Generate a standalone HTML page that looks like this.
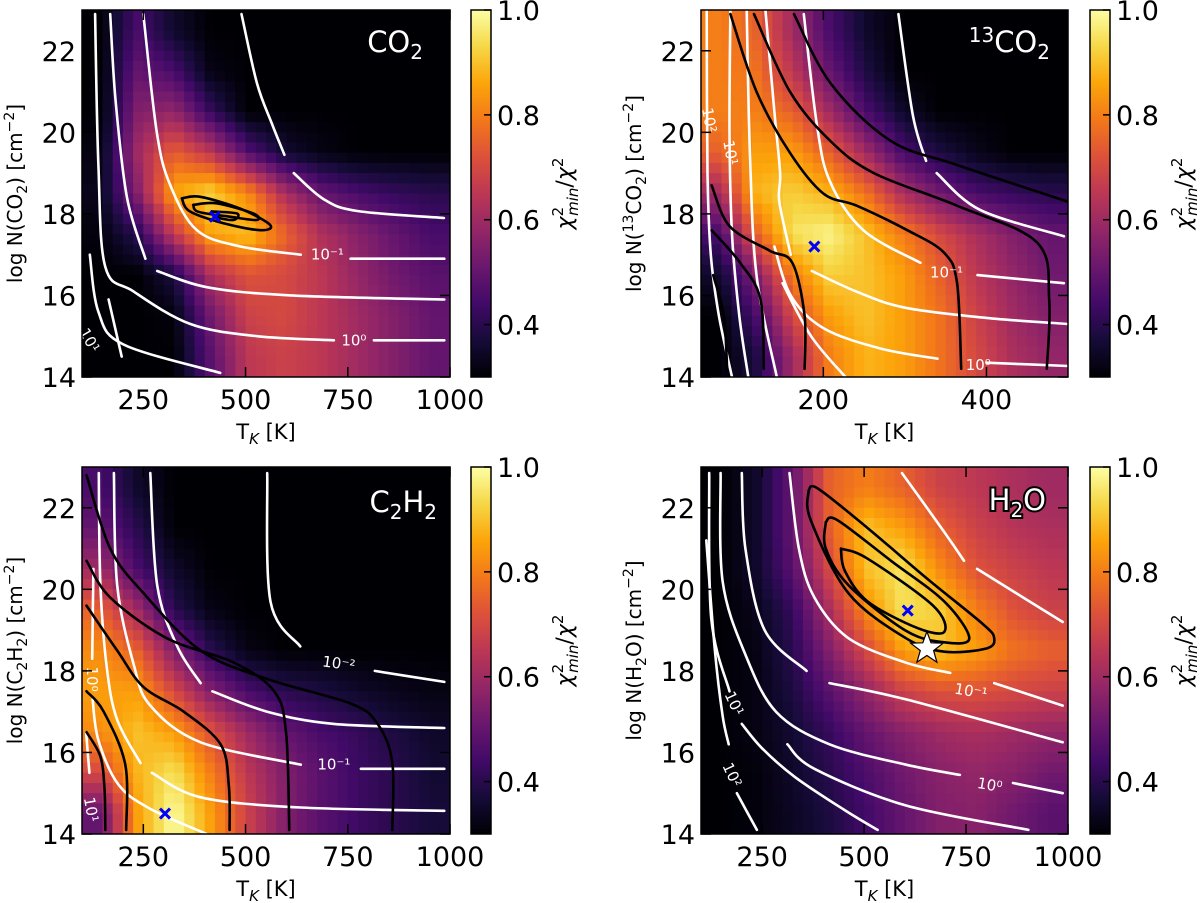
<!DOCTYPE html>
<html><head><meta charset="utf-8"><style>
html,body{margin:0;padding:0;background:#fff;}
svg{display:block;font-family:"DejaVu Sans","Liberation Sans",sans-serif;}
</style></head><body>
<svg id="fig" width="1200" height="903" viewBox="0 0 1200 903" xmlns="http://www.w3.org/2000/svg">
<defs>
<linearGradient id="inferno" x1="0" y1="1" x2="0" y2="0">
<stop offset="0" stop-color="#000004"/><stop offset="0.1" stop-color="#160b39"/><stop offset="0.2" stop-color="#420a68"/><stop offset="0.3" stop-color="#6a176e"/><stop offset="0.4" stop-color="#932667"/><stop offset="0.5" stop-color="#bc3754"/><stop offset="0.6" stop-color="#dd513a"/><stop offset="0.7" stop-color="#f37819"/><stop offset="0.8" stop-color="#fca50a"/><stop offset="0.9" stop-color="#f6d746"/><stop offset="1" stop-color="#fcffa4"/>
</linearGradient>
</defs>
</svg>
<script>
// ---------- data (grid rows: logN 22.5 -> 14.5, cols evenly spaced in T) ----------
const co2Grid=[
[.30,.45,.35,.30,.30,.30,.30,.30,.30,.30],
[.30,.50,.45,.32,.30,.30,.30,.30,.30,.30],
[.30,.55,.58,.42,.30,.30,.30,.30,.30,.30],
[.32,.60,.75,.65,.47,.36,.32,.30,.30,.30],
[.33,.55,.86,.93,.82,.62,.50,.45,.42,.40],
[.31,.40,.66,.86,.90,.76,.63,.56,.50,.45],
[.30,.30,.38,.62,.72,.70,.65,.58,.52,.48],
[.30,.30,.31,.52,.68,.70,.65,.60,.55,.50],
[.30,.30,.30,.48,.65,.68,.65,.60,.55,.50]];
const c13Grid=[
[.80,.75,.60,.45,.35,.30,.30,.30,.30,.30],
[.80,.78,.65,.50,.38,.30,.30,.30,.30,.30],
[.80,.80,.75,.60,.45,.35,.30,.30,.30,.30],
[.75,.85,.85,.75,.60,.45,.38,.33,.30,.30],
[.60,.88,.92,.88,.78,.62,.52,.45,.42,.40],
[.45,.75,.95,.98,.90,.80,.70,.62,.55,.50],
[.35,.55,.80,.92,.90,.85,.75,.65,.58,.52],
[.30,.45,.70,.85,.90,.85,.78,.68,.60,.55],
[.30,.38,.60,.80,.88,.85,.78,.70,.62,.58]];
const c2h2Grid=[
[.45,.35,.30,.30,.30,.30,.30,.30,.30,.30],
[.50,.40,.30,.30,.30,.30,.30,.30,.30,.30],
[.60,.45,.35,.30,.30,.30,.30,.30,.30,.30],
[.75,.60,.40,.32,.30,.30,.30,.30,.30,.30],
[.82,.75,.55,.40,.32,.30,.30,.30,.30,.30],
[.85,.85,.70,.55,.45,.40,.38,.35,.33,.32],
[.82,.90,.85,.72,.60,.50,.45,.42,.38,.35],
[.70,.88,.95,.80,.65,.55,.48,.43,.40,.36],
[.50,.85,1.0,.85,.68,.55,.48,.43,.40,.37]];
const h2oGrid=[
[.30,.35,.50,.75,.80,.75,.68,.65,.62,.60],
[.30,.35,.50,.75,.90,.85,.75,.68,.64,.62],
[.30,.35,.48,.70,.90,.95,.82,.72,.68,.65],
[.30,.33,.42,.62,.82,.95,.92,.80,.72,.68],
[.30,.32,.40,.55,.70,.85,.90,.85,.78,.75],
[.30,.32,.38,.48,.58,.68,.72,.72,.70,.68],
[.30,.32,.36,.42,.50,.56,.60,.62,.60,.58],
[.30,.31,.35,.40,.46,.52,.56,.58,.56,.52],
[.30,.31,.34,.38,.44,.50,.55,.56,.52,.48]];

// contours: [T, logN] points, null = break
const co2White=[
[[490,22.9],[528,21.2],[565,20.2],[595,19.45],null,[618,19.0],[691,18.36],[773,18.07],[985,17.9]],
[[250,22.9],[283,20.0],[316,18.7],[381,17.6],[488,17.2],[635,17.0],null,[757,16.9],[986,16.9]],
[[169,22.9],[182,20.8],[210,18.4],[255,16.9],null,[284,16.6],[407,16.2],[611,16.0],[986,15.9]],
[[132,22.9],[140,19.2],[157,16.7],[226,16.1],[365,15.3],[528,15.0],[716,14.9],null,[814,14.9],[986,14.9]],
[[119,17.0],[140,15.6],[201,14.8],[438,14.1]],
[[165,15.9],[197,14.5]]];
const co2Black=[
[[344,18.38],[389,18.42],[487,18.13],[560,17.73],[536,17.6],[446,17.77],[364,18.06],[344,18.38]],
[[372,18.22],[429,18.26],[519,18.01],[527,17.85],[462,17.93],[385,18.05],[372,18.22]],
[[417,18.06],[479,18.01],[470,17.85],[425,17.93],[417,18.06]]];
const co2Labels=[["10⁻¹",700,17.0,0],["10⁰",765,14.9,0],["10¹",118,14.9,60]];
const co2Best=[425,17.93];

const c13White=[
[[57,23],[58,19],[62,17],[72,15.5],[88,14]],
[[86,23],[85,20],[88,17.5],[97,15.5],[108,14]],
[[106,23],[110,19.5],[118,16.5],[143,14]],
[[129,23],[140,20.5],[147,19],[146,18.3],[160,17]],
[[186,16.6],[240,16.1],[300,15.7],[400,15.45],[500,15.3]],
[[176,22.9],[192,20.2],[208,18.8],[249,17.6],[319,16.8],null,[389,16.5],[495,16.3]],
[[292,22.9],[310,20.4],[326,19.3],null,[339,19.0],[392,18.1],[495,17.45]],
[[140,17.2],[160,16.0],[200,15.2],[270,14.7],[340,14.45],null,[400,14.35],[500,14.27]],
[[150,16.3],[185,15.0],[227,14.0]]];
const c13Black=[
[[86,22.9],[118,21],[159,19.5],[200,18.5],[241,18.2],[303,17.6],[348,17.05],[364,16.3],[369,14.2]],
[[115,22.9],[159,21],[208,19.8],[262,19.0],[364,18.2],[462,17.3],[477,15.9],[474,14.2]],
[[164,22.9],[209,21.2],[282,19.8],[364,19.2],[500,18.3]],
[[63,18.7],[85,17.7],[134,17.1],[162,16.8],[177,15.5],[177,14.2]],
[[63,17.6],[98,16.8],[123,15.9],[127,14.2]],
[[65,16.5],[78,15.5],[82,14.2]]];
const c13Labels=[["10⁻¹",351,16.56,0],["10⁰",390,14.3,0],["10¹",86,19.5,80],["10²",60,20.3,80]];
const c13Best=[189,17.2];

const c2h2White=[
[[553,22.85],[561,19.7],[634,18.6],null,[816,18.0],[986,17.73]],
[[267,22.85],[284,20.1],[333,18.6],[390,17.7],null,[419,17.5],[553,17.0],[716,16.7],[986,16.6]],
[[178,22.85],[186,20.1],[227,18.14],[267,17.15],[390,16.25],[635,15.7],null,[782,15.6],[986,15.6]],
[[141,22.85],[145,20.1],[161,18.06],[186,16.8],[243,15.74],null,[271,15.5],[390,14.9],[635,14.65],[986,14.57]],
[[128,20.5],[125,18.3],null,[126,17.3],[140,16.3],[190,15.2],[270,14.6],[405,14.0]],
[[110,16.5],[118,15.5]]];
const c2h2Black=[
[[111,22.8],[169,21.0],[251,19.9],[390,18.5],[553,17.8],[757,17.2],[823,16.7],[859,15.75],[859,14.1]],
[[111,20.7],[169,19.8],[308,18.8],[472,18.2],[570,17.5],[599,16.5],[607,14.1]],
[[111,19.6],[186,18.5],[251,17.6],[349,17.0],[439,16.2],[459,15.2],[461,14.1]],
[[111,17.5],[153,17.0],[206,15.7],[208,14.1]],
[[111,16.5],[145,15.9],[155,15.1],[157,14.1]]];
const c2h2Labels=[["10⁻²",728,18.18,8],["10⁻¹",716,15.7,0],["10⁰",125,17.8,90],["10¹",122,14.6,80]];
const c2h2Best=[303,14.5];

const h2oWhite=[
[[593,22.85],[697,21.4],[745,20.7],null,[777,20.5],[987,19.2]],
[[317,22.85],[340,21.0],[378,19.8],[462,18.8],[603,18.2],[711,17.95],null,[819,17.7],[987,17.15]],
[[200,22.85],[209,21.0],[256,19.0],[359,18.0],null,[415,17.7],[603,17.3],[987,16.25]],
[[148,22.85],[153,20.2],[209,18.4],[284,17.0],[415,16.2],[603,15.7],[735,15.45],null,[865,15.25],[987,15.0]],
[[120,22.85],[125,19.3],[170,17.5],null,[200,16.7],[250,16.1],[330,15.4],[450,14.6],[533,14.1]],
[[113,21.2],[134,18.5],[153,16.9],[168,16.2],null,[188,15.0],[237,14.1]],
[[312,16.2],[378,15.6],[603,14.7],[903,14.1]]];
const h2oBlack=[
[[364,22.43],[387,22.47],[509,21.5],[650,20.3],[791,19.15],[819,18.8],[800,18.55],[697,18.47],[603,18.8],[462,19.9],[369,21.7],[364,22.43]],
[[406,21.65],[434,21.7],[566,20.7],[697,19.7],[758,18.8],[697,18.7],[603,18.98],[462,20.1],[406,21.0],[406,21.65]],
[[443,21.0],[509,20.75],[669,19.6],[697,18.96],[631,19.05],[509,19.7],[453,20.45],[443,21.0]]];
const h2oLabels=[["10⁻¹",762,17.5,10],["10⁰",808,15.2,10],["10¹",181,17.2,65],["10²",176,15.45,65]];
const h2oBest=[607,19.48];
const h2oStar=[654,18.55];

const cbTicks=[0.4,0.6,0.8,1.0];
const yTicks=[14,16,18,20,22];
const xTicksWide=[250,500,750,1000];
const xTicks13=[200,400];

// ---------- rendering ----------
const NS='http://www.w3.org/2000/svg';
const svg=document.getElementById('fig');
function mk(tag,attrs,parent){const e=document.createElementNS(NS,tag);for(const k in attrs)e.setAttribute(k,attrs[k]);(parent||svg).appendChild(e);return e;}
const STOPS=[[0,0,0,4],[.1,22,11,57],[.2,66,10,104],[.3,106,23,110],[.4,147,38,103],[.5,188,55,84],[.6,221,81,58],[.7,243,120,25],[.8,252,165,10],[.9,246,215,70],[1,252,255,164]];
function inferno(v){let t=(v-0.3)/0.7;t=Math.max(0,Math.min(1,t));for(let i=1;i<STOPS.length;i++){if(t<=STOPS[i][0]){const a=STOPS[i-1],b=STOPS[i];const f=(t-a[0])/(b[0]-a[0]);return 'rgb('+[1,2,3].map(k=>Math.round(a[k]+f*(b[k]-a[k]))).join(',')+')';}}return 'rgb(252,255,164)';}
function smooth(P){
  if(P.length<2)return '';
  let d='M'+P[0][0].toFixed(1)+','+P[0][1].toFixed(1);
  for(let i=0;i<P.length-1;i++){const p0=P[Math.max(0,i-1)],p1=P[i],p2=P[i+1],p3=P[Math.min(P.length-1,i+2)];
    const c1=[p1[0]+(p2[0]-p0[0])/6,p1[1]+(p2[1]-p0[1])/6],c2=[p2[0]-(p3[0]-p1[0])/6,p2[1]-(p3[1]-p1[1])/6];
    d+='C'+c1[0].toFixed(1)+','+c1[1].toFixed(1)+' '+c2[0].toFixed(1)+','+c2[1].toFixed(1)+' '+p2[0].toFixed(1)+','+p2[1].toFixed(1);}
  return d;}

function panel(cfg){
  const {x0,x1,y0,y1,tmin,tmax,grid,white,black,labels,best,star,xticks,title,key,ylab,cbx}=cfg;
  const g=mk('g',{});
  
  
  const xs=T=>x0+(T-tmin)/(tmax-tmin)*(x1-x0);
  const ys=N=>y1-(N-14)/9*(y1-y0);
  const clipId='clip-'+key;
  const cp=mk('clipPath',{id:clipId},g);mk('rect',{x:x0,y:y0,width:x1-x0,height:y1-y0},cp);
  const hm=mk('g',{'clip-path':'url(#'+clipId+')'},g);
  
  
  const nc=grid[0].length,nr=grid.length;const FX=36,FY=36;
  const dT=(tmax-tmin)/nc;
  for(let i=0;i<FY;i++){for(let j=0;j<FX;j++){
    const T=tmin+(j+0.5)*(tmax-tmin)/FX, N=23-(i+0.5)*9/FY;
    let c=(T-tmin)/dT-0.5, r=(23-N)-0.5;
    c=Math.max(0,Math.min(nc-1,c)); r=Math.max(0,Math.min(nr-1,r));
    const c0=Math.floor(c),r0=Math.floor(r),c1=Math.min(nc-1,c0+1),r1=Math.min(nr-1,r0+1);
    const fc=c-c0,fr=r-r0;
    const v=(grid[r0][c0]*(1-fc)+grid[r0][c1]*fc)*(1-fr)+(grid[r1][c0]*(1-fc)+grid[r1][c1]*fc)*fr;
    const xa=xs(T-(tmax-tmin)/FX/2),xb=xs(T+(tmax-tmin)/FX/2),ya=ys(N+9/FY/2),yb=ys(N-9/FY/2);
    const cell=mk('rect',{x:xa.toFixed(2),y:ya.toFixed(2),width:(xb-xa+0.6).toFixed(2),height:(yb-ya+0.6).toFixed(2),fill:inferno(v)},hm);
    
    
  }}
  const cg=mk('g',{'clip-path':'url(#'+clipId+')',fill:'none'},g);
  function drawLines(arr,color,name,w){arr.forEach(pts=>{let d='',run=[];
    const flush=()=>{d+=smooth(run);run=[];};
    pts.forEach(p=>{if(p===null){flush();return;}run.push([xs(p[0]),ys(p[1])]);});flush();
    const pth=mk('path',{d:d,stroke:color,'stroke-width':w,'stroke-linejoin':'round','stroke-linecap':'round'},cg);
    
    });}
  drawLines(white,'#ffffff','white-contour',2.6);
  drawLines(black,'#000000','black-contour',2.6);
  labels.forEach(l=>{const t=mk('text',{x:xs(l[1]),y:ys(l[2])+5,'font-size':15,fill:'#fff','text-anchor':'middle',transform:'rotate('+l[3]+' '+xs(l[1])+' '+ys(l[2])+')'},cg);t.textContent=l[0];
    
    });
  if(star){const cx=xs(star[0]),cy=ys(star[1]);let pts=[];for(let k=0;k<10;k++){const a=-Math.PI/2+k*Math.PI/5,rr=k%2?7:17;pts.push((cx+rr*Math.cos(a)).toFixed(1)+','+(cy+rr*Math.sin(a)).toFixed(1));}
    const s=mk('polygon',{points:pts.join(' '),fill:'#fff',stroke:'#000','stroke-width':1.2},g);
    
    }
  {const bx=xs(best[0]),by=ys(best[1]);const m=mk('path',{d:`M${bx-5},${by-5}L${bx+5},${by+5}M${bx-5},${by+5}L${bx+5},${by-5}`,stroke:'#0000ff','stroke-width':3},g);
    
    }
  const tt=mk('text',{x:cfg.tx,y:cfg.ty,'font-size':29,fill:'#fff','text-anchor':'end',stroke:cfg.outline?'#000':'none','stroke-width':cfg.outline?4:0,'paint-order':'stroke'},g);
  tt.innerHTML=title;
  
  
  const tk=mk('g',{stroke:'#000','stroke-width':1.5},g);
  xticks.forEach(v=>{const x=xs(v);mk('line',{x1:x,y1:y1,x2:x,y2:y1-10},tk);mk('line',{x1:x,y1:y0,x2:x,y2:y0+10},tk);
    const l=mk('text',{x:x,y:y1+32,'font-size':27,'text-anchor':'middle',stroke:'none',fill:'#000'},g);l.textContent=v;
    
    });
  yTicks.forEach(v=>{const y=ys(v);mk('line',{x1:x0,y1:y,x2:x0+10,y2:y},tk);mk('line',{x1:x1,y1:y,x2:x1-10,y2:y},tk);
    const l=mk('text',{x:x0-6,y:y+10,'font-size':27,'text-anchor':'end',stroke:'none',fill:'#000'},g);l.textContent=v;
    
    });
  const fr=mk('rect',{x:x0,y:y0,width:x1-x0,height:y1-y0,fill:'none',stroke:'#000','stroke-width':1.5},g);
  
  
  const xl=mk('text',{x:(x0+x1)/2,y:y1+62,'font-size':21,'text-anchor':'middle'},g);
  xl.innerHTML='T<tspan font-size="15" font-style="italic" dy="5">K</tspan><tspan dy="-5"> [K]</tspan>';
  
  
  const yx=x0-60,yy=(y0+y1)/2;
  const yl=mk('text',{x:yx,y:yy,'font-size':20,'text-anchor':'middle',transform:`rotate(-90 ${yx} ${yy})`},g);
  yl.innerHTML=ylab;
  
  
  const cb=mk('rect',{x:cbx,y:y0,width:20,height:y1-y0,fill:'url(#inferno)',stroke:'#000','stroke-width':1.5},g);
  
  
  const cs=v=>y1-(v-0.3)/0.7*(y1-y0);
  cbTicks.forEach(v=>{const y=cs(v);mk('line',{x1:cbx+20,y1:y,x2:cbx+13,y2:y,stroke:'#000','stroke-width':1.5},g);
    const l=mk('text',{x:cbx+26,y:y+10,'font-size':27,fill:'#000'},g);l.textContent=v.toFixed(1);
    
    });
  const lx=cbx+101,ly=(y0+y1)/2;
  const cl=mk('text',{x:lx,y:ly,'font-size':22,'text-anchor':'middle',transform:`rotate(-90 ${lx} ${ly})`},g);
  cl.innerHTML='<tspan font-style="italic">χ</tspan><tspan font-size="15" dy="-9">2</tspan><tspan font-size="15" font-style="italic" dx="-9" dy="15">min</tspan><tspan dy="-6">/</tspan><tspan font-style="italic">χ</tspan><tspan font-size="15" dy="-9">2</tspan>';
  
  
}

panel({key:'co2',x0:82,x1:450,y0:10,y1:377,tmin:100,tmax:1000,grid:co2Grid,white:co2White,black:co2Black,labels:co2Labels,best:co2Best,xticks:xTicksWide,
  title:'CO<tspan font-size="20" dy="7">2</tspan>',tx:423,ty:52,ylab:'log N(CO<tspan font-size="14" dy="5">2</tspan><tspan dy="-5">) [cm</tspan><tspan font-size="14" dy="-8">−2</tspan><tspan dy="8">]</tspan>',cbx:471});
panel({key:'c13o2',x0:701,x1:1068,y0:10,y1:377,tmin:50,tmax:500,grid:c13Grid,white:c13White,black:c13Black,labels:c13Labels,best:c13Best,xticks:xTicks13,
  title:'<tspan font-size="20" dy="-10">13</tspan><tspan dy="10">CO</tspan><tspan font-size="20" dy="7">2</tspan>',tx:1050,ty:52,ylab:'log N(<tspan font-size="14" dy="-8">13</tspan><tspan dy="8">CO</tspan><tspan font-size="14" dy="5">2</tspan><tspan dy="-5">) [cm</tspan><tspan font-size="14" dy="-8">−2</tspan><tspan dy="8">]</tspan>',cbx:1090});
panel({key:'c2h2',x0:82,x1:450,y0:467,y1:834,tmin:100,tmax:1000,grid:c2h2Grid,white:c2h2White,black:c2h2Black,labels:c2h2Labels,best:c2h2Best,xticks:xTicksWide,
  title:'C<tspan font-size="20" dy="7">2</tspan><tspan dy="-7">H</tspan><tspan font-size="20" dy="7">2</tspan>',tx:437,ty:512,ylab:'log N(C<tspan font-size="14" dy="5">2</tspan><tspan dy="-5">H</tspan><tspan font-size="14" dy="5">2</tspan><tspan dy="-5">) [cm</tspan><tspan font-size="14" dy="-8">−2</tspan><tspan dy="8">]</tspan>',cbx:471});
panel({key:'h2o',x0:701,x1:1068,y0:467,y1:834,tmin:100,tmax:1000,grid:h2oGrid,white:h2oWhite,black:h2oBlack,labels:h2oLabels,best:h2oBest,star:h2oStar,xticks:xTicksWide,outline:true,
  title:'H<tspan font-size="20" dy="7">2</tspan><tspan dy="-7">O</tspan>',tx:1046,ty:510,ylab:'log N(H<tspan font-size="14" dy="5">2</tspan><tspan dy="-5">O) [cm</tspan><tspan font-size="14" dy="-8">−2</tspan><tspan dy="8">]</tspan>',cbx:1090});
</script>
</body></html>
